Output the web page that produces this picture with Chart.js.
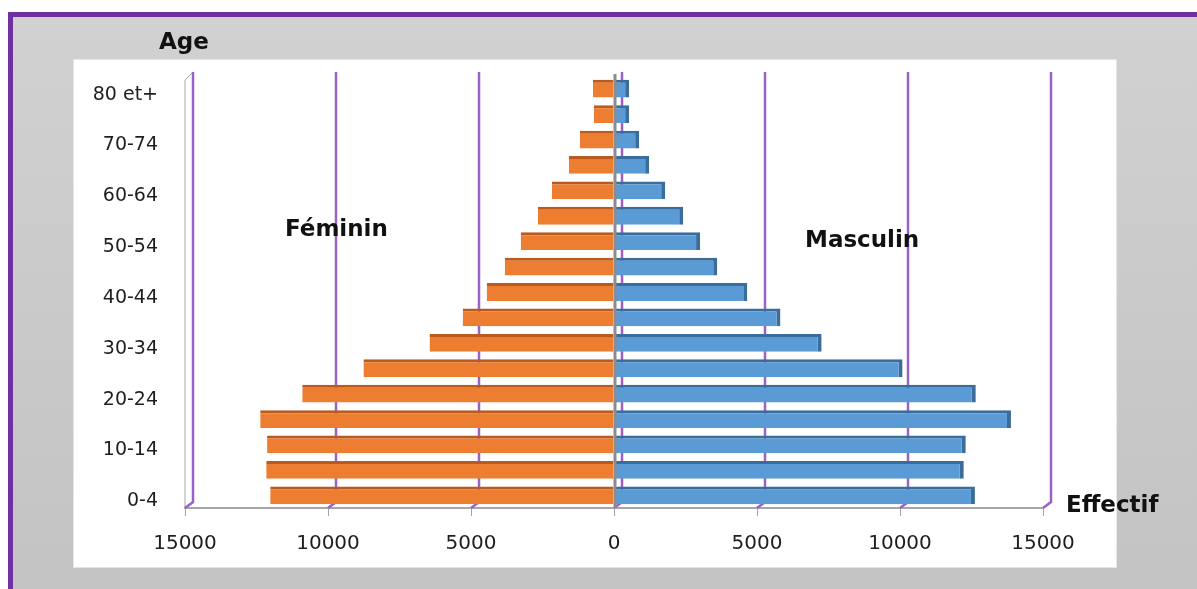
<!DOCTYPE html>
<html lang="fr">
<head>
<meta charset="utf-8">
<title>Pyramide des âges</title>
<script src="https://cdn.jsdelivr.net/npm/chart.js@4.4.1/dist/chart.umd.min.js"></script>
<style>
  html, body { margin: 0; padding: 0; background: #ffffff; }
  body { width: 1197px; height: 589px; position: relative; overflow: hidden; font-family: "DejaVu Sans", sans-serif; }
  #frame { position: absolute; left: 8px; top: 12px; right: 0; bottom: 0;
           border-top: 5px solid #7030a0; border-left: 5px solid #7030a0;
           background: linear-gradient(#d1d1d1, #c3c3c3); }
  #plotbox { position: absolute; left: 74px; top: 60px; width: 1042px; height: 507px;
             background: #ffffff; box-shadow: 0 0 0 1px #e6e6e6; }
  #wrap { position: absolute; left: 0; top: 0; width: 1197px; height: 589px; }
  .lbl { position: absolute; font-family: "DejaVu Sans", sans-serif; font-weight: bold;
         font-size: 23px; line-height: 23px; color: #111; white-space: nowrap; }
</style>
</head>
<body>
<div id="frame"></div>
<div id="plotbox"></div>
<div id="wrap"><canvas id="c" width="1197" height="589"></canvas></div>
<div class="lbl" style="left:159px; top:30px;">Age</div>
<div class="lbl" style="left:285px; top:217px;">Féminin</div>
<div class="lbl" style="left:805px; top:228px;">Masculin</div>
<div class="lbl" style="left:1066px; top:493px;">Effectif</div>
<script>
// ---- Data (top to bottom) ----
const categories = ["80 et+","75-79","70-74","65-69","60-64","55-59","50-54","45-49","40-44","35-39","30-34","25-29","20-24","15-19","10-14","5-9","0-4"];
const feminin  = [740, 700, 1190, 1580, 2170, 2660, 3260, 3820, 4450, 5290, 6450, 8760, 10900, 12370, 12130, 12160, 12020];
const masculin = [530, 530, 880, 1230, 1790, 2420, 3010, 3610, 4660, 5820, 7260, 10090, 12650, 13880, 12300, 12230, 12620];
const xMin = -15000, xMax = 15000, xStep = 5000;

const DEPTH_X = 8, DEPTH_Y = 6;

const wallsPlugin = {
  id: 'walls',
  beforeDatasetsDraw(chart) {
    const ctx = chart.ctx, xs = chart.scales.x;
    const { top, bottom } = chart.chartArea;
    ctx.save();
    xs.ticks.forEach((t, i) => {
      const px = xs.getPixelForValue(t.value);
      if (i === 0) {
        ctx.strokeStyle = '#a8a8a8';
        ctx.lineWidth = 1;
        ctx.beginPath();
        ctx.moveTo(px, bottom);
        ctx.lineTo(px, top + 4);
        ctx.lineTo(px + DEPTH_X, top - 4);
        ctx.stroke();
      }
      ctx.strokeStyle = '#9a62c8';
      ctx.lineWidth = 2.5;
      ctx.beginPath();
      ctx.moveTo(px + DEPTH_X, top - 4);
      ctx.lineTo(px + DEPTH_X, bottom - DEPTH_Y);
      ctx.lineTo(px, bottom);
      ctx.stroke();
    });
    ctx.restore();
  },
  afterDatasetsDraw(chart) {
    const ctx = chart.ctx, xs = chart.scales.x;
    const { top, bottom } = chart.chartArea;
    const p0 = xs.getPixelForValue(0);
    ctx.save();
    ctx.strokeStyle = '#8c8c8c';
    ctx.lineWidth = 3;
    ctx.beginPath();
    ctx.moveTo(p0 + 1, top - 2);
    ctx.lineTo(p0 + 1, bottom);
    ctx.stroke();
    ctx.restore();
  }
};

new Chart(document.getElementById('c'), {
  type: 'bar',
  data: {
    labels: categories,
    datasets: [
      {
        label: 'Féminin',
        data: feminin.map(v => -v),
        backgroundColor: '#ed7d31',
        borderColor: '#b95a1e',
        borderWidth: { top: 3, right: 0, bottom: 0, left: 0 },
        borderSkipped: false,
        barPercentage: 0.7,
        categoryPercentage: 1.0
      },
      {
        label: 'Masculin',
        data: masculin,
        backgroundColor: '#5b9bd5',
        borderColor: '#3b6d9c',
        borderWidth: { top: 3, right: 4, bottom: 0, left: 0 },
        borderSkipped: false,
        barPercentage: 0.7,
        categoryPercentage: 1.0
      }
    ]
  },
  options: {
    indexAxis: 'y',
    responsive: true,
    maintainAspectRatio: false,
    animation: false,
    layout: { padding: { left: 0, right: 154, top: 76, bottom: 0 } },
    plugins: { legend: { display: false }, tooltip: { enabled: false } },
    scales: {
      x: {
        stacked: true,
        min: xMin, max: xMax,
        afterFit(scale) { scale.height = 81; },
        border: { display: true, color: '#a6a6a6', width: 2 },
        grid: { display: true, drawOnChartArea: false, drawTicks: true, tickLength: 8, color: '#a6a6a6' },
        ticks: {
          stepSize: xStep,
          padding: 16,
          color: '#1e1e1e',
          font: { family: 'DejaVu Sans', size: 20 },
          maxRotation: 0,
          callback: v => String(Math.abs(v))
        }
      },
      y: {
        stacked: true,
        afterFit(scale) { scale.width = 185; },
        border: { display: false },
        grid: { display: false, drawTicks: false },
        ticks: {
          autoSkip: false,
          padding: 27,
          labelOffset: 6,
          color: '#1e1e1e',
          font: { family: 'DejaVu Sans', size: 19 },
          callback: (v, i) => (i % 2 === 0 ? categories[i] : '')
        }
      }
    }
  },
  plugins: [wallsPlugin]
});
</script>
</body>
</html>
